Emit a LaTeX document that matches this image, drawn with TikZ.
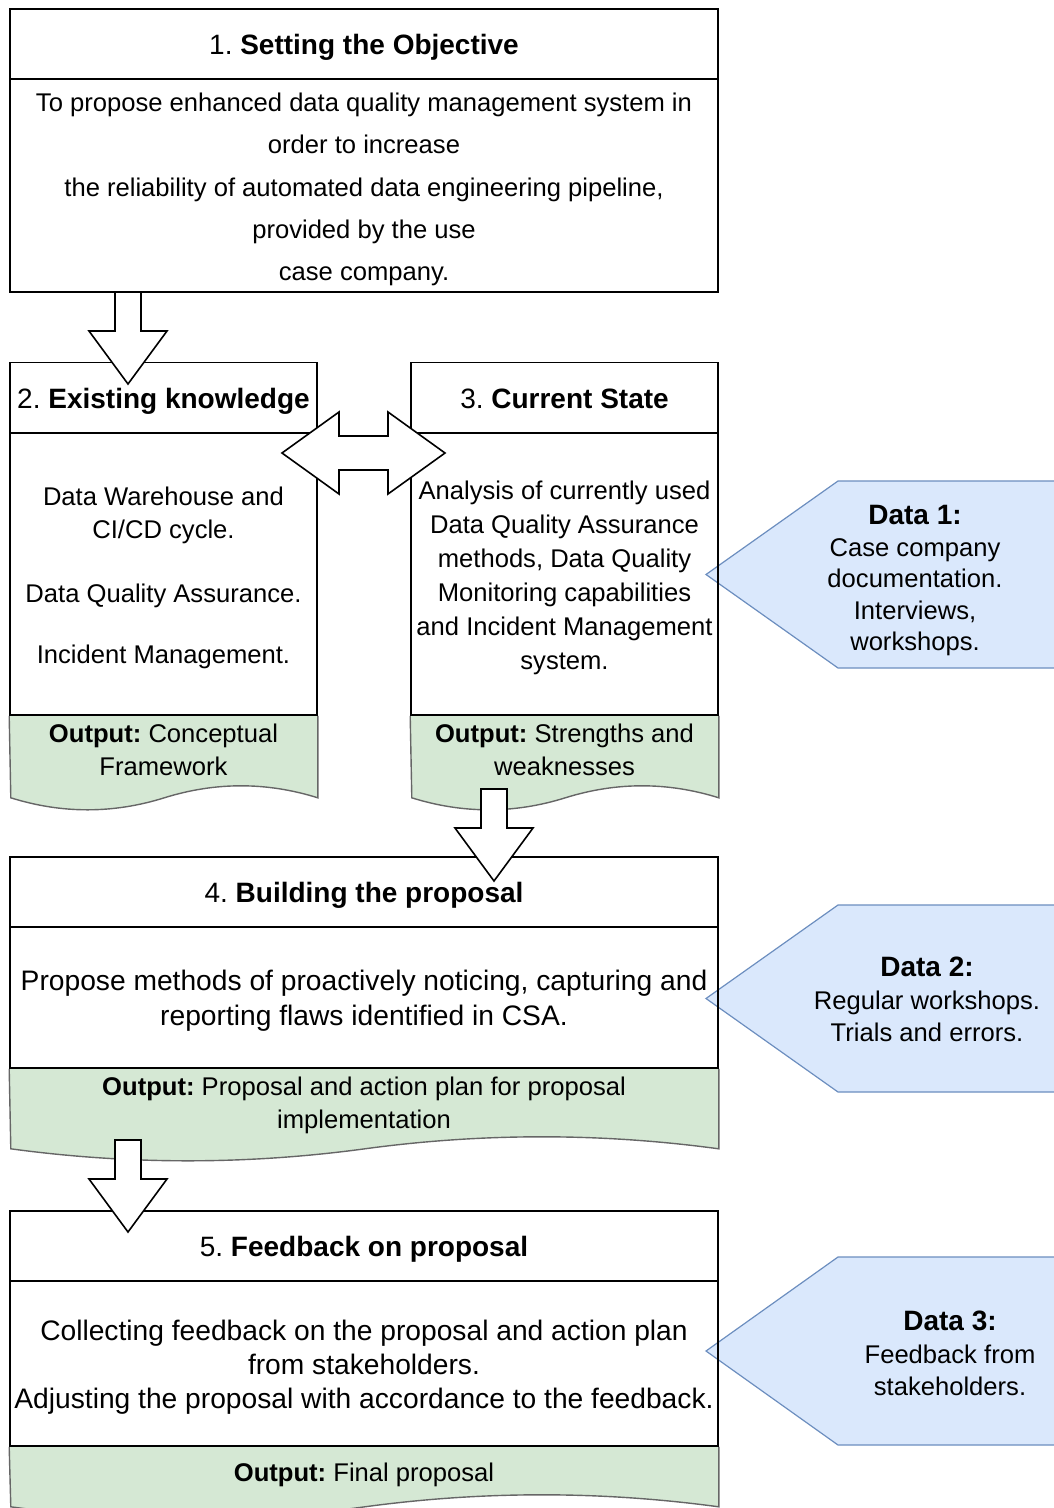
\documentclass[tikz,border=0pt]{standalone}
\usepackage{fontspec}
\setmainfont{Liberation Sans}
\usetikzlibrary{backgrounds}
\definecolor{docfill}{HTML}{D5E8D4}
\definecolor{docline}{HTML}{666666}
\definecolor{datafill}{HTML}{DAE8FC}
\definecolor{dataline}{HTML}{6C8EBF}
\newcommand\datahead[1]{{\fontsize{28}{31}\selectfont\bfseries #1}}
\newcommand\topline{\rule{0pt}{27pt}}
\frenchspacing

\begin{document}
\begin{tikzpicture}
    [x=1pt,y=-1pt,line join=miter,
      every node/.style={font=\fontsize{25.6}{33.5}\selectfont,inner sep=0pt,align=center,
        execute at begin node={\topline},execute at end node={\rule[-6pt]{0pt}{0pt}}},
      header/.style={draw,line width=1.6pt,minimum height=70,minimum width=#1,
        font=\fontsize{28}{33.5}\selectfont},
      body/.style 2 args={draw,line width=1.6pt,minimum width=#1,minimum height=#2},
      outdoc/.style={draw=docline,fill=docfill,line width=1.4pt},
      datashape/.style={draw=dataline,fill=datafill,line width=1.2pt},
      blockarrow/.style={draw,fill=white,line width=1.6pt}]

    \useasboundingbox (0,0) rectangle (1054,1508);

    % data callouts on the right
    \foreach \dtop/\dbot in {481/668,905/1092,1257/1445}
      \draw[datashape] (1060,\dtop) -- (838,\dtop) -- (706,{(\dtop+\dbot)/2}) -- (838,\dbot) -- (1060,\dbot);
    \node[font=\fontsize{25.6}{31.5}\selectfont] (d1) at (915,577) {\topline\datahead{Data 1:}\\Case company\\documentation.\\Interviews,\\workshops.};
    \node[font=\fontsize{25.6}{32.5}\selectfont] (d2) at (927,998.5) {\topline\datahead{Data 2:}\\Regular workshops.\\Trials and errors.};
    \node[font=\fontsize{25.6}{32.5}\selectfont] (d3) at (950,1352.5) {\topline\datahead{Data 3:}\\Feedback from\\stakeholders.};

    % step 1
    \node[header=708] (t1) at (364,44) {1. \textbf{Setting the Objective}};
    \node[body={708}{213},font=\fontsize{25.6}{42.4}\selectfont] (b1) at (364,185.5)
      {\topline To propose enhanced data quality management system in\\order to increase\\the reliability of automated data engineering pipeline,\\provided by the use\\case company.};

    % steps 2 and 3
    \node[header=307] (t2) at (163.5,397.5) {2. \textbf{Existing knowledge}};
    \node[body={307}{282},font=\fontsize{25.6}{33}\selectfont] (b2) at (163.5,574)
      {\topline Data Warehouse and\\CI/CD cycle.\\[31pt]Data Quality Assurance.\\[28pt]Incident Management.};
    \node[header=307] (t3) at (564.5,397.5) {3. \textbf{Current State}};
    \node[body={307}{282},font=\fontsize{25.6}{34}\selectfont] (b3) at (564.5,574)
      {\topline Analysis of currently used\\Data Quality Assurance\\methods, Data Quality\\Monitoring capabilities\\and Incident Management\\system.};

    % step 4
    \node[header=708] (t4) at (364,892) {4. \textbf{Building the proposal}};
    \node[body={708}{141},font=\fontsize{28.2}{35}\selectfont] (b4) at (364,997.5)
      {\topline Propose methods of proactively noticing, capturing and\\reporting flaws identified in CSA.};

    % step 5
    \node[header=708] (t5) at (364,1246) {5. \textbf{Feedback on proposal}};
    \node[body={708}{165},font=\fontsize{28.2}{34}\selectfont] (b5) at (364,1363.5)
      {\topline Collecting feedback on the proposal and action plan\\from stakeholders.\\Adjusting the proposal with accordance to the feedback.};

    % output documents
    \def\outdoc#1#2#3{%
      \draw[outdoc] (#1.south east) -- ++(0,#3)
        .. controls +(-#2/6,-16) and +(#2/6,-16) .. ++(-#2/2,0)
        .. controls +(-#2/6,16) and +(#2/6,16) .. ++(-#2/2,0) -- (#1.south west);}
    \begin{scope}[on background layer]
      \outdoc{b2}{307}{82}
      \outdoc{b3}{307}{82}
      \outdoc{b4}{708}{80}
      \outdoc{b5}{708}{60}
    \end{scope}
    \node (o2) at (163.5,748.5) {\topline\textbf{Output:} Conceptual\\Framework};
    \node (o3) at (564.5,748.5) {\topline\textbf{Output:} Strengths and\\weaknesses};
    \node (o4) at (364,1101.5) {\topline\textbf{Output:} Proposal and action plan for proposal\\implementation};
    \node (o5) at (364,1471) {\textbf{Output:} Final proposal};

    % block arrows
    \foreach \ax/\ay in {128/292,494/789,128/1140}
      \draw[blockarrow] (\ax-13,\ay) -- (\ax+13,\ay) -- (\ax+13,\ay+39) -- (\ax+39,\ay+39)
        -- (\ax,\ay+92) -- (\ax-39,\ay+39) -- (\ax-13,\ay+39) -- cycle;
    \draw[blockarrow] (282,453) -- (339,412) -- (339,436) -- (388,436) -- (388,412) -- (445,453)
      -- (388,494) -- (388,470) -- (339,470) -- (339,494) -- cycle;

    \end{tikzpicture}
\end{document}
